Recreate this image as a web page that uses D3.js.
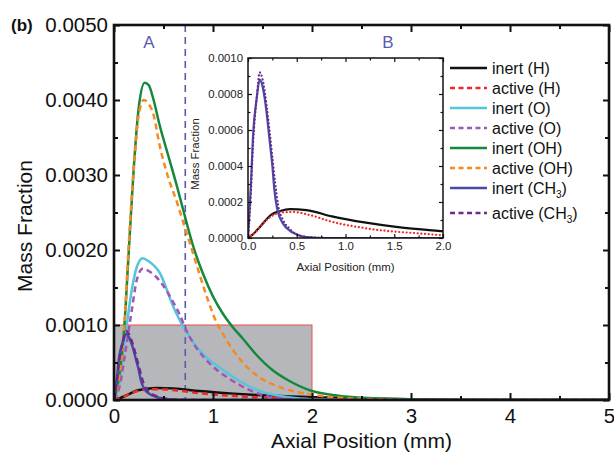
<!DOCTYPE html>
<html>
<head>
<meta charset="utf-8">
<script src="https://cdn.jsdelivr.net/npm/d3@7/dist/d3.min.js"></script>
<style>
  body { margin: 0; background: #fff; }
  text { font-family: "Liberation Sans", Arial, Helvetica, sans-serif; }
</style>
</head>
<body>
<svg id="chart" width="614" height="455"></svg>
<script>
// ---- data: axial position (mm) vs mass fraction ----
const inertH = [[0,0],[0.05,0.00002],[0.12,0.00006],[0.24,0.00013],[0.33,0.00015],[0.43,0.00016],[0.6,0.000155],[0.86,0.00012],[1.21,0.000085],[1.54,0.00006],[1.95,0.00004],[2.5,0.00002],[3,0.00001],[3.5,0.000004],[4,0],[5,0]];
const activeH = [[0,0],[0.07,0.00003],[0.19,0.0001],[0.32,0.00014],[0.46,0.000145],[0.63,0.000128],[0.86,0.00009],[1.14,0.00006],[1.41,0.00004],[1.72,0.000027],[1.95,0.000017],[2.5,0.000005],[3,0],[5,0]];
const inertO = [[0,0],[0.06,0.00027],[0.11,0.0008],[0.18,0.00147],[0.23,0.00177],[0.29,0.00189],[0.35,0.00185],[0.46,0.0017],[0.6,0.00124],[0.69,0.001],[0.76,0.00085],[0.84,0.0007],[0.94,0.00056],[1.07,0.00043],[1.2,0.00031],[1.34,0.0002],[1.47,0.00012],[1.61,0.00007],[1.8,0.00003],[2.0,0.00001],[2.5,0],[5,0]];
const activeO = [[0,0],[0.06,0.0002],[0.11,0.0006],[0.18,0.0012],[0.23,0.0016],[0.29,0.00175],[0.35,0.00172],[0.42,0.00165],[0.5,0.00152],[0.6,0.0013],[0.67,0.00112],[0.73,0.00093],[0.8,0.00076],[0.9,0.00058],[1.04,0.0004],[1.17,0.00028],[1.27,0.0002],[1.47,0.00008],[1.7,0.00002],[2.0,0],[5,0]];
const inertOH = [[0,0],[0.05,0.0003],[0.1,0.0009],[0.15,0.002],[0.2,0.0031],[0.25,0.0039],[0.31,0.00423],[0.35,0.0042],[0.4,0.004],[0.46,0.00367],[0.55,0.00325],[0.64,0.00283],[0.72,0.00243],[0.8,0.00205],[0.9,0.00168],[1.0,0.00138],[1.1,0.00115],[1.2,0.00097],[1.3,0.00082],[1.44,0.0006],[1.6,0.0004],[1.75,0.00027],[2.0,0.00012],[2.25,0.00006],[2.5,0.00003],[3.0,0.00001],[3.5,0],[5,0]];
const activeOH = [[0,0],[0.05,0.0003],[0.1,0.0009],[0.15,0.0021],[0.2,0.0031],[0.25,0.0038],[0.3,0.004],[0.35,0.00395],[0.4,0.0038],[0.46,0.0034],[0.54,0.003],[0.64,0.00262],[0.72,0.00228],[0.8,0.00195],[0.87,0.00165],[0.95,0.00133],[1.02,0.00108],[1.1,0.00088],[1.2,0.00067],[1.3,0.0005],[1.47,0.0003],[1.68,0.00017],[1.95,0.00008],[2.3,0.00003],[2.7,0.00001],[3,0],[5,0]];
const inertCH3 = [[0,0],[0.03,0.0003],[0.05,0.00055],[0.09,0.00078],[0.12,0.00088],[0.15,0.00084],[0.19,0.0007],[0.22,0.00055],[0.25,0.0004],[0.27,0.00027],[0.3,0.00016],[0.36,0.00008],[0.43,0.00004],[0.5,0.00002],[0.6,0.000005],[0.8,0],[5,0]];
const activeCH3 = [[0,0],[0.03,0.00025],[0.05,0.0005],[0.09,0.00078],[0.12,0.00092],[0.15,0.00088],[0.19,0.00074],[0.22,0.0006],[0.25,0.00045],[0.28,0.0003],[0.31,0.00018],[0.36,0.0001],[0.43,0.00005],[0.5,0.00002],[0.6,0.000006],[0.8,0],[5,0]];

const seriesLabels = ["inert (H)", "active (H)", "inert (O)", "active (O)", "inert (OH)", "active (OH)", "inert (CH", "active (CH"];
const seriesSub = ["", "", "", "", "", "", "3", "3"];
const seriesData = [inertH, activeH, inertO, activeO, inertOH, activeOH, inertCH3, activeCH3];
const seriesColors = ["#111111", "#ee2a24", "#56c5dc", "#a155b9", "#14893d", "#f7891f", "#4b4aa6", "#6d2a8a"];
const seriesActive = [false, true, false, true, false, true, false, true];
const insetSeries = [0, 1, 6, 7];

const xTicks = [0, 1, 2, 3, 4, 5];
const xMinor = [0.5, 1.5, 2.5, 3.5, 4.5];
const yTicks = [0, 0.001, 0.002, 0.003, 0.004, 0.005];
const yMinor = [0.0005, 0.0015, 0.0025, 0.0035, 0.0045];
const insetXTicks = [0, 0.5, 1, 1.5, 2];
const insetXMinor = [0.25, 0.75, 1.25, 1.75];
const insetYTicks = [0, 0.0002, 0.0004, 0.0006, 0.0008, 0.001];
const insetYMinor = [0.0001, 0.0003, 0.0005, 0.0007, 0.0009];

const boundaryX = 0.72;           // A/B region boundary (mm)
const zoomBox = [2, 0.001];       // region shown in the inset

// ---- layout ----
const svg = d3.select("#chart");
const M = { l: 114, r: 609, t: 25, b: 400 };
const x = d3.scaleLinear([0, 5], [M.l, M.r]);
const y = d3.scaleLinear([0, 0.005], [M.b, M.t]);

const fmt4 = d3.format(".4f");

// shaded zoom region
svg.append("rect")
  .attr("x", x(0)).attr("y", y(zoomBox[1]))
  .attr("width", x(zoomBox[0]) - x(0)).attr("height", y(0) - y(zoomBox[1]))
  .attr("fill", "#b6b7ba").attr("stroke", "#f04a4a").attr("stroke-width", 1);

// region boundary
svg.append("line")
  .attr("x1", x(boundaryX)).attr("x2", x(boundaryX))
  .attr("y1", M.t).attr("y2", M.b)
  .attr("stroke", "#5a5aaa").attr("stroke-width", 1.6)
  .attr("stroke-dasharray", "7,5");

svg.append("text").attr("x", 149).attr("y", 48).attr("text-anchor", "middle")
  .attr("font-size", 17).attr("fill", "#5a5aaa").text("A");
svg.append("text").attr("x", 388).attr("y", 48).attr("text-anchor", "middle")
  .attr("font-size", 17).attr("fill", "#5a5aaa").text("B");

// curves
svg.append("clipPath").attr("id", "mainClip")
  .append("rect").attr("x", M.l).attr("y", M.t).attr("width", M.r - M.l).attr("height", M.b - M.t);

const line = d3.line().x(d => x(d[0])).y(d => y(d[1])).curve(d3.curveMonotoneX);
const curves = svg.append("g").attr("clip-path", "url(#mainClip)");
seriesData.forEach((data, i) => {
  curves.append("path")
    .attr("d", line(data))
    .attr("fill", "none")
    .attr("stroke", seriesColors[i])
    .attr("stroke-width", 2.5)
    .attr("stroke-dasharray", seriesActive[i] ? "6,4" : null);
});

// axes (ticks point inward)
function ticksOnly(axis, vals, size) {
  return axis.tickValues(vals).tickSizeInner(-size).tickSizeOuter(0).tickFormat("");
}
function styleAxis(g, w) {
  g.select(".domain").remove();
  g.selectAll(".tick line").attr("stroke", "#111").attr("stroke-width", w);
}
const fs = 20.5;
const gB = svg.append("g").attr("transform", `translate(0,${M.b})`)
  .call(d3.axisBottom(x).tickValues(xTicks).tickSizeInner(-7).tickSizeOuter(0).tickPadding(8).tickFormat(d3.format("d")));
gB.selectAll("text").attr("font-size", fs).attr("fill", "#111");
styleAxis(gB, 2);
styleAxis(svg.append("g").attr("transform", `translate(0,${M.b})`).call(ticksOnly(d3.axisBottom(x), xMinor, 4)), 2);

const gL = svg.append("g").attr("transform", `translate(${M.l},0)`)
  .call(d3.axisLeft(y).tickValues(yTicks).tickSizeInner(-6).tickSizeOuter(0).tickPadding(6).tickFormat(fmt4));
gL.selectAll("text").attr("font-size", fs).attr("fill", "#111");
styleAxis(gL, 2);
styleAxis(svg.append("g").attr("transform", `translate(${M.l},0)`).call(ticksOnly(d3.axisLeft(y), yMinor, 4)), 2);

styleAxis(svg.append("g").attr("transform", `translate(0,${M.t})`).call(ticksOnly(d3.axisTop(x), xTicks, 7)), 2);
styleAxis(svg.append("g").attr("transform", `translate(0,${M.t})`).call(ticksOnly(d3.axisTop(x), xMinor, 4)), 2);
styleAxis(svg.append("g").attr("transform", `translate(${M.r},0)`).call(ticksOnly(d3.axisRight(y), yTicks, 6)), 2);
styleAxis(svg.append("g").attr("transform", `translate(${M.r},0)`).call(ticksOnly(d3.axisRight(y), yMinor, 4)), 2);

svg.append("rect").attr("x", M.l).attr("y", M.t).attr("width", M.r - M.l).attr("height", M.b - M.t)
  .attr("fill", "none").attr("stroke", "#111").attr("stroke-width", 2.6);

svg.append("text").attr("x", (M.l + M.r) / 2).attr("y", 448).attr("text-anchor", "middle")
  .attr("font-size", 21).attr("fill", "#111").text("Axial Position (mm)");
svg.append("text").attr("transform", "translate(32,226) rotate(-90)")
  .attr("text-anchor", "middle").attr("font-size", 21).attr("fill", "#111").text("Mass Fraction");
svg.append("text").attr("x", 11).attr("y", 31).attr("font-size", 17).attr("font-weight", "bold")
  .attr("fill", "#111").text("(b)");

// ---- inset ----
const I = { l: 248, r: 443, t: 58, b: 238 };
const xi = d3.scaleLinear([0, 2], [I.l, I.r]);
const yi = d3.scaleLinear([0, 0.001], [I.b, I.t]);
svg.append("rect").attr("x", I.l).attr("y", I.t).attr("width", I.r - I.l).attr("height", I.b - I.t)
  .attr("fill", "#fff");
svg.append("clipPath").attr("id", "insetClip")
  .append("rect").attr("x", I.l).attr("y", I.t).attr("width", I.r - I.l).attr("height", I.b - I.t);
const lineI = d3.line().x(d => xi(d[0])).y(d => yi(d[1])).curve(d3.curveMonotoneX);
const gI = svg.append("g").attr("clip-path", "url(#insetClip)");
insetSeries.forEach(i => {
  gI.append("path")
    .attr("d", lineI(seriesData[i]))
    .attr("fill", "none")
    .attr("stroke", seriesColors[i])
    .attr("stroke-width", 2.2)
    .attr("stroke-linecap", seriesActive[i] ? "round" : "butt")
    .attr("stroke-dasharray", seriesActive[i] ? "0.1,3.6" : null);
});
const fsi = 11.4;
const giB = svg.append("g").attr("transform", `translate(0,${I.b})`)
  .call(d3.axisBottom(xi).tickValues(insetXTicks).tickSizeInner(-4).tickSizeOuter(0).tickPadding(4).tickFormat(d3.format(".1f")));
giB.selectAll("text").attr("font-size", fsi).attr("fill", "#222");
styleAxis(giB, 1.2);
styleAxis(svg.append("g").attr("transform", `translate(0,${I.b})`).call(ticksOnly(d3.axisBottom(xi), insetXMinor, 2.5)), 1.2);
const giL = svg.append("g").attr("transform", `translate(${I.l},0)`)
  .call(d3.axisLeft(yi).tickValues(insetYTicks).tickSizeInner(-4).tickSizeOuter(0).tickPadding(5).tickFormat(fmt4));
giL.selectAll("text").attr("font-size", fsi).attr("fill", "#222");
styleAxis(giL, 1.2);
styleAxis(svg.append("g").attr("transform", `translate(${I.l},0)`).call(ticksOnly(d3.axisLeft(yi), insetYMinor, 2.5)), 1.2);
styleAxis(svg.append("g").attr("transform", `translate(0,${I.t})`).call(ticksOnly(d3.axisTop(xi), insetXTicks, 4)), 1.2);
styleAxis(svg.append("g").attr("transform", `translate(0,${I.t})`).call(ticksOnly(d3.axisTop(xi), insetXMinor, 2.5)), 1.2);
styleAxis(svg.append("g").attr("transform", `translate(${I.r},0)`).call(ticksOnly(d3.axisRight(yi), insetYTicks, 4)), 1.2);
styleAxis(svg.append("g").attr("transform", `translate(${I.r},0)`).call(ticksOnly(d3.axisRight(yi), insetYMinor, 2.5)), 1.2);
svg.append("rect").attr("x", I.l).attr("y", I.t).attr("width", I.r - I.l).attr("height", I.b - I.t)
  .attr("fill", "none").attr("stroke", "#111").attr("stroke-width", 1.5);
svg.append("text").attr("x", (I.l + I.r) / 2).attr("y", 271).attr("text-anchor", "middle")
  .attr("font-size", fsi).attr("fill", "#222").text("Axial Position (mm)");
svg.append("text").attr("transform", `translate(199,${(I.t + I.b) / 2 + 6}) rotate(-90)`)
  .attr("text-anchor", "middle").attr("font-size", fsi).attr("fill", "#222").text("Mass Fraction");

// ---- legend ----
const leg = svg.append("g");
seriesLabels.forEach((lab, i) => {
  const ry = 68 + i * 20 + (i === 7 ? 5 : 0);
  leg.append("line").attr("x1", 450).attr("x2", 487).attr("y1", ry).attr("y2", ry)
    .attr("stroke", seriesColors[i]).attr("stroke-width", 2.5)
    .attr("stroke-dasharray", seriesActive[i] ? "5,3.5" : null);
  const t = leg.append("text").attr("x", 492).attr("y", ry + 5.5)
    .attr("font-size", 16).attr("fill", "#111").text(lab);
  if (seriesSub[i]) {
    t.append("tspan").attr("font-size", 10).attr("dy", 4).text(seriesSub[i]);
    t.append("tspan").attr("dy", -4).text(")");
  }
});
</script>
</body>
</html>
